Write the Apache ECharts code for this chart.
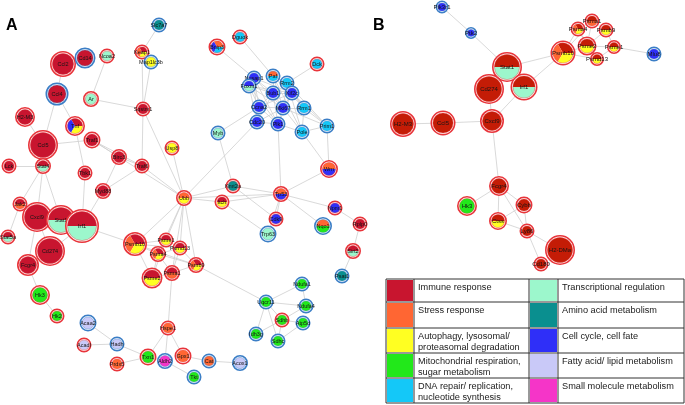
<!DOCTYPE html>
<html><head><meta charset="utf-8">
<script src="https://cdn.jsdelivr.net/npm/echarts@6/dist/echarts.min.js"></script>
<style>html,body{margin:0;padding:0;background:#fff}#c{width:685px;height:405px}</style>
</head><body><div id="c"></div>
<script>
// category keys and legend texts
const legendKeysLeft = ['imm','str','aut','mit','dna'];
const legendKeysRight = ['tra','ami','cel','fat','sml'];
const legendLeft = ['Immune response','Stress response','Autophagy, lysosomal/\nproteasomal degradation','Mitochondrial respiration,\nsugar metabolism','DNA repair/ replication,\nnucleotide synthesis'];
const legendRight = ['Transcriptional regulation','Amino acid metabolism','Cell cycle, cell fate','Fatty acid/ lipid metabolism','Small molecule metabolism'];
const panelLabels = ['A','B'];

// nodes: [name, x, y, size, categories (pie slices), ring type]
const nodesA = [
['Slc7a7',159,25,7.5,'ami','b'],['Keap1',142,52,7.5,'imm/str/aut','r'],['Map1lc3b',151,62,7.5,'aut','b'],
['Ccl2',63,64,13,'imm','r'],['Cd14',85,58,10.5,'imm','b'],['Ncoa2',107,56,7.5,'tra','r'],
['Ccl4',57,94,11.5,'imm','b'],['Ar',91,99,8,'tra','r'],['Sqstm1',143,109,7.5,'imm','r'],
['H2-M3',25,117,10,'imm','r'],['Tnf',75,126,10,'imm/cel/aut','r'],['Bnip3',217,47,8.5,'str/cel/dna','r'],
['Dguok',240,37,7.5,'dna','r'],['Dck',317,64,7.5,'dna','r'],['Paf',273,76,7.5,'str/dna','b'],
['Nusap1',254,78,7.5,'cel','b'],['Foxm1',249,86,7.5,'cel/tra','b'],['Rrm2',287,83,7.5,'dna','b'],
['Bub1',273,93,7.5,'cel','b'],['Kif2c',292,93,7.5,'cel','b'],['Ccna2',259,107,7.5,'cel','b'],
['Mki67',283,108,7.5,'cel','b'],['Rrm1',304,108,7.5,'dna','b'],['Cdc20',257,122,7.5,'cel','b'],
['Plk1',278,124,7.5,'cel','b'],['Pole',302,132,7.5,'dna','b'],['Prim1',327,126,7.5,'dna','b'],
['Myb',218,133,7.5,'tra','b'],['Ccl5',43,145,15,'imm','r'],['Traf1',92,140,8.5,'imm','r'],
['Birc3',119,157,8,'imm','r'],['Traf6',142,166,7.5,'imm','r'],['Lck',9,166,7.5,'imm','r'],
['Stat4',43,166,8,'imm/tra','r'],['Tbk1',85,173,7.5,'imm','r'],['Myd88',103,191,8,'imm','r'],
['Jak2',20,204,7.5,'imm/str','r'],['Cxcl9',37,217,15,'imm','r'],['Stat1',61,220,15,'imm/tra','r'],
['Irf1',82,226,17,'imm/tra','r'],['Stat5a',8,237,7.5,'imm/tra','r'],['Cd274',50,251,15,'imm','r'],
['Fcgr4',28,265,11,'imm','r'],['Usp8',172,148,7.5,'aut','r'],['Ubb',184,198,8,'str/aut','r'],
['Itch',222,202,7.5,'imm/aut','r'],['Psmb10',135,244,12,'imm/str/aut','r'],['Psme1',166,240,7.5,'imm/aut','r'],
['Psmd13',180,248,7.5,'imm/aut','r'],['Psma4',158,254,8,'imm/str/aut','r'],['Psmb9',196,265,8,'imm/str/aut','r'],
['Psma1',172,273,8,'imm/str','r'],['Psme2',152,278,10.5,'imm/aut','r'],['Kmt2a',233,186,7.5,'ami','r'],
['Tp53',281,194,8,'str/cel','r'],['Wrn',329,169,9,'str/cel','r'],['Cdk9',276,219,7.5,'cel','r'],
['Trp63',268,234,8.5,'tra','b'],['Nqo1',323,226,9,'str/mit','b'],['Npm1',335,208,7.5,'cel','r'],
['Rplp0',360,224,7.5,'imm','r'],['Sirt2',353,251,8,'imm/tra','r'],['Psat1',342,276,7.5,'ami','b'],
['Hk3',40,295,10,'mit','r'],['Hk2',57,316,7.5,'mit','r'],['Acaa2',88,323,8.5,'fat','b'],
['Acadl',84,345,7.5,'fat','r'],['Hadh',117,344,7.5,'fat','b'],['Prdx5',117,364,7.5,'str','r'],
['Txn1',148,357,8.5,'mit','r'],['Aldh2',165,361,8,'sml','b'],['Gpx1',183,356,8.5,'str','r'],
['Hspe1',168,328,7.5,'str','r'],['Cat',209,361,7.5,'str','b'],['Tkt',194,377,7.5,'mit','b'],
['Ndufa1',302,284,7.5,'mit','b'],['Uqcr11',266,302,7.5,'mit','b'],['Ndufa4',306,306,7.5,'mit','b'],
['Sdhb',282,320,7.5,'mit','r'],['Atp5d',303,323,7.5,'mit','b'],['Idh3g',256,334,7.5,'mit','b'],
['Sdhc',278,341,7.5,'mit','b'],['Acox1',240,363,8,'fat','b']
];
const edgesA = [
['Ccl2','Ccl4'],['Ncoa2','Ar'],['Ar','Sqstm1'],['Ccl4','Ccl5'],['Ccl4','Tnf'],['H2-M3','Ccl5'],
['Keap1','Slc7a7'],['Keap1','Sqstm1'],['Map1lc3b','Sqstm1'],['Sqstm1','Traf6'],['Sqstm1','Ubb'],
['Bnip3','Nusap1'],['Dguok','Paf'],['Dck','Rrm2'],['Myb','Ccna2'],['Cdc20','Ubb'],['Plk1','Tp53'],
['Pole','Wrn'],['Prim1','Wrn'],
['Nusap1','Foxm1'],['Nusap1','Bub1'],['Nusap1','Ccna2'],['Nusap1','Mki67'],['Nusap1','Plk1'],['Nusap1','Cdc20'],['Nusap1','Kif2c'],
['Foxm1','Bub1'],['Foxm1','Ccna2'],['Foxm1','Mki67'],['Foxm1','Cdc20'],['Foxm1','Plk1'],['Foxm1','Kif2c'],
['Paf','Rrm2'],['Paf','Bub1'],['Paf','Mki67'],['Paf','Rrm1'],['Paf','Pole'],['Rrm2','Kif2c'],['Rrm2','Rrm1'],
['Rrm2','Mki67'],['Rrm2','Pole'],['Rrm2','Prim1'],['Bub1','Kif2c'],['Bub1','Mki67'],['Bub1','Ccna2'],['Bub1','Plk1'],
['Bub1','Cdc20'],['Kif2c','Mki67'],['Kif2c','Plk1'],['Kif2c','Ccna2'],['Ccna2','Mki67'],['Ccna2','Cdc20'],['Ccna2','Plk1'],
['Mki67','Plk1'],['Mki67','Cdc20'],['Mki67','Rrm1'],['Mki67','Pole'],['Cdc20','Plk1'],['Plk1','Pole'],['Rrm1','Pole'],
['Rrm1','Prim1'],['Pole','Prim1'],['Kif2c','Prim1'],['Rrm1','Kif2c'],['Mki67','Prim1'],
['Ccl5','Traf1'],['Ccl5','Stat4'],['Tnf','Tbk1'],['Traf1','Traf6'],['Traf1','Birc3'],['Traf1','Ubb'],['Traf6','Ubb'],
['Birc3','Traf6'],['Birc3','Myd88'],['Traf6','Myd88'],['Tbk1','Irf1'],['Myd88','Irf1'],['Lck','Stat4'],
['Stat4','Cxcl9'],['Stat4','Stat1'],['Stat4','Jak2'],['Jak2','Stat5a'],['Jak2','Cxcl9'],['Cxcl9','Stat1'],
['Stat1','Irf1'],['Cxcl9','Cd274'],['Cd274','Irf1'],['Cxcl9','Fcgr4'],['Irf1','Psmb10'],
['Psmb10','Ubb'],['Psme1','Ubb'],['Psmd13','Ubb'],['Psma4','Ubb'],['Psmb9','Ubb'],['Psma1','Ubb'],
['Psmb10','Psme1'],['Psmb10','Psma4'],['Psmb10','Psme2'],['Psmb10','Psmd13'],['Psmb10','Psmb9'],['Psme1','Psmd13'],
['Psme1','Psma4'],['Psma4','Psmd13'],['Psma4','Psmb9'],['Psma4','Psma1'],['Psma4','Psme2'],['Psmd13','Psmb9'],
['Psma1','Psmb9'],['Psma1','Psme2'],['Psme2','Psme1'],['Psmd13','Psma1'],['Psmb9','Uqcr11'],['Psma1','Hspe1'],
['Ubb','Usp8'],['Ubb','Itch'],['Ubb','Kmt2a'],['Ubb','Tp53'],['Itch','Tp53'],['Itch','Trp63'],['Kmt2a','Tp53'],
['Kmt2a','Cdk9'],['Myb','Kmt2a'],['Tp53','Cdk9'],['Tp53','Trp63'],['Tp53','Wrn'],['Tp53','Npm1'],['Tp53','Nqo1'],
['Npm1','Rplp0'],['Rplp0','Sirt2'],['Sirt2','Psat1'],
['Fcgr4','Hk3'],['Hk3','Hk2'],['Acaa2','Hadh'],['Acadl','Hadh'],['Hadh','Txn1'],['Prdx5','Txn1'],['Txn1','Hspe1'],
['Hspe1','Aldh2'],['Hspe1','Gpx1'],['Txn1','Aldh2'],['Aldh2','Tkt'],['Gpx1','Cat'],['Cat','Acox1'],
['Uqcr11','Ndufa1'],['Uqcr11','Ndufa4'],['Uqcr11','Sdhb'],['Uqcr11','Idh3g'],['Uqcr11','Sdhc'],['Ndufa1','Ndufa4'],
['Ndufa4','Sdhb'],['Sdhb','Idh3g'],['Sdhb','Sdhc'],['Sdhc','Atp5d'],['Sdhb','Atp5d']
];
const nodesB = [
['Pik3r1',442,7,6.5,'cel','b'],['Ptk2',471,33,6,'cel','b'],['Stat1',507,67,15,'imm/tra','r'],
['Cd274',489,89,15,'imm','r'],['Irf1',524,87,13.5,'imm/tra','r'],['H2-M3',403,124,13,'imm','r'],
['Ccl5',443,123,12.5,'imm','r'],['Cxcl9',492,121,12,'imm','r'],['Psmb10',563,53,12.5,'imm/str/aut','r'],
['Psma4',578,29,7.5,'imm/str/aut','r'],['Psma1',592,21,7.5,'imm/str','r'],['Psmb9',606,30,7.5,'imm/aut','r'],
['Psme2',587,46,9.5,'imm/aut','r'],['Psme1',614,47,7,'imm/aut','r'],['Psmd13',597,59,7,'imm/aut','r'],
['Mlu8',654,54,7.5,'cel','b'],['Fcgr4',499,186,10,'imm','r'],['Hk3',467,206,10,'mit','r'],
['Cybb',524,205,8.5,'imm','r'],['Ctss',498,221,9,'imm/aut','r'],['Ly86',527,231,7.5,'imm','r'],
['H2-DMa',560,250,15,'imm','r'],['Cd180',541,264,7.5,'imm','r']
];
const edgesB = [
['Pik3r1','Ptk2'],['Ptk2','Stat1'],['Stat1','Cd274'],['Stat1','Irf1'],['Stat1','Psmb10'],['Irf1','Psmb10'],
['Irf1','Cxcl9'],['Cd274','Cxcl9'],['Cxcl9','Ccl5'],['Ccl5','H2-M3'],['Cxcl9','Fcgr4'],
['Psmb10','Psma4'],['Psmb10','Psme2'],['Psmb10','Psmd13'],['Psmb10','Psma1'],['Psme1','Mlu8'],
['Psma4','Psma1'],['Psma1','Psmb9'],['Psmb9','Psme1'],['Psme2','Psme1'],['Psme2','Psmd13'],['Psma4','Psme2'],
['Psmd13','Psme1'],['Psma1','Psme2'],['Psmb9','Psme2'],['Psma4','Psmd13'],
['Fcgr4','Hk3'],['Fcgr4','Cybb'],['Fcgr4','Ctss'],['Fcgr4','Ly86'],['Cybb','Ctss'],['Cybb','Ly86'],
['Ctss','Ly86'],['Ly86','H2-DMa'],['Ly86','Cd180']
];

const COLORS = {imm:'#c8152f', str:'#ff6633', aut:'#ffff22', mit:'#22e81a', dna:'#14c8f8',
  tra:'#9cf7cc', ami:'#0a8f8f', cel:'#2f2ff8', fat:'#c9c9f8', sml:'#f535c8'};
const RING = {r:'#e8343a', b:'#3b7ec6'};
const FONT = '"Liberation Sans", Arial, sans-serif';

function edgeData(nodes, edges){
  const m = {}; nodes.forEach(n => m[n[0]] = n);
  return edges.map(e => ({coords:[[m[e[0]][1], m[e[0]][2]], [m[e[1]][1], m[e[1]][2]]]}));
}
function nodeSeries(nodes, immColor, fs){
  return {
    type:'custom', coordinateSystem:'cartesian2d', z:5, animation:false,
    data: nodes.map(n => [n[1], n[2]]),
    renderItem: function(params, api){
      const n = nodes[params.dataIndex];
      const p = api.coord([api.value(0), api.value(1)]);
      const cx = p[0], cy = p[1], r = n[3], ring = RING[n[5]];
      const col = k => (k === 'imm' ? immColor : COLORS[k]);
      const ch = [];
      ch.push({type:'circle', shape:{cx, cy, r:r-0.8}, style:{fill:'#fff', stroke:ring, lineWidth:1.6}});
      const segs = n[4].split('/');
      const ri = r - 2.4;
      if (segs.length === 1) {
        ch.push({type:'circle', shape:{cx, cy, r:ri}, style:{fill:col(segs[0])}});
      } else {
        const step = 2*Math.PI/segs.length;
        segs.forEach((s,i) => {
          ch.push({type:'sector', shape:{cx, cy, r0:0, r:ri, startAngle:-(i+1)*step, endAngle:-i*step, clockwise:true},
            style:{fill:col(s)}});
        });
      }
      ch.push({type:'circle', shape:{cx, cy, r:ri}, style:{fill:null, stroke:ring, lineWidth:0.6, opacity:0.7}});
      ch.push({type:'text', style:{text:n[0], x:cx, y:cy, align:'center', verticalAlign:'middle',
        fontSize:fs, fontFamily:FONT, fill:'#151515'}});
      return {type:'group', children:ch};
    }
  };
}

// legend table
const cols = [386,414,529,558,684];
const rows = [279,302,328,353,378,403];
const graphics = [];
function addColumn(keys, texts, x0, x1, x2){
  keys.forEach((k,i) => {
    const y0 = rows[i], y1 = rows[i+1];
    graphics.push({type:'rect', shape:{x:x0+1, y:y0+1, width:x1-x0-2, height:y1-y0-2}, style:{fill:COLORS[k]}});
    graphics.push({type:'text', style:{text:texts[i], x:x1+4, y:y0+2.5, fontSize:9.2, lineHeight:11,
      fontFamily:FONT, fill:'#1a1a1a', verticalAlign:'top'}});
  });
}
addColumn(legendKeysLeft, legendLeft, cols[0], cols[1], cols[2]);
addColumn(legendKeysRight, legendRight, cols[2], cols[3], cols[4]);
cols.forEach(x => graphics.push({type:'line', shape:{x1:x, y1:rows[0], x2:x, y2:rows[rows.length-1]}, style:{stroke:'#333', lineWidth:1}}));
rows.forEach(y => graphics.push({type:'line', shape:{x1:cols[0], y1:y, x2:cols[cols.length-1], y2:y}, style:{stroke:'#333', lineWidth:1}}));
graphics.push({type:'text', style:{text:panelLabels[0], x:6, y:18, fontSize:16, fontWeight:'bold', fontFamily:FONT, fill:'#000'}});
graphics.push({type:'text', style:{text:panelLabels[1], x:373, y:18, fontSize:16, fontWeight:'bold', fontFamily:FONT, fill:'#000'}});

const chart = echarts.init(document.getElementById('c'), null, {renderer:'canvas'});
chart.setOption({
  animation:false,
  grid:{left:0, right:0, top:0, bottom:0},
  xAxis:{type:'value', min:0, max:685, show:false},
  yAxis:{type:'value', min:0, max:405, inverse:true, show:false},
  series:[
    {type:'lines', coordinateSystem:'cartesian2d', z:1, silent:true,
      lineStyle:{color:'#cfcfcf', width:0.8, opacity:1}, data: edgeData(nodesA, edgesA)},
    {type:'lines', coordinateSystem:'cartesian2d', z:1, silent:true,
      lineStyle:{color:'#cfcfcf', width:0.8, opacity:1}, data: edgeData(nodesB, edgesB)},
    nodeSeries(nodesA, '#c8152f', 5.5),
    nodeSeries(nodesB, '#c41c06', 6)
  ],
  graphic: graphics
});
</script></body></html>
